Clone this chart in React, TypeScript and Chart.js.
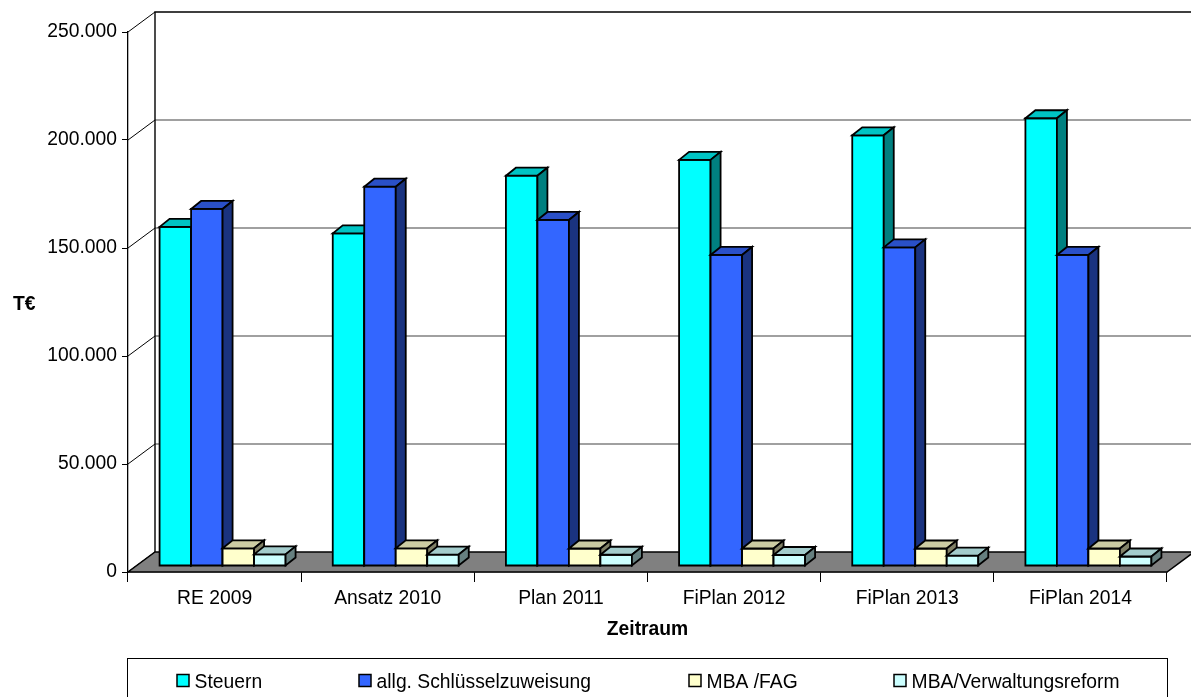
import { useEffect, useRef } from 'react';
import { Chart, registerables } from 'chart.js';

Chart.register(...registerables);

// Zeiträume (Kategorien)
const categories = ['RE 2009', 'Ansatz 2010', 'Plan 2011', 'FiPlan 2012', 'FiPlan 2013', 'FiPlan 2014'];

// Werte in T€
const steuern = [157000, 154000, 180700, 188000, 199400, 207300];
const schluesselzuweisung = [165300, 175600, 160200, 144000, 147500, 144000];
const mbaFag = [8200, 8200, 8100, 8100, 8100, 8100];
const mbaVerwaltungsreform = [5400, 5300, 5200, 5100, 4800, 4400];

const seriesNames = ['Steuern', 'allg. Schlüsselzuweisung', 'MBA /FAG', 'MBA/Verwaltungsreform'];

// Achse
const yMin = 0;
const yMax = 250000;
const yStep = 50000;
const yTitle = 'T€';
const xTitle = 'Zeitraum';

// Flächenfarben je Reihe: Vorderseite, Oberseite, Seitenfläche
const faces = [
  { front: '#00FFFF', top: '#00C4C4', side: '#008080' },
  { front: '#3366FF', top: '#2A50C8', side: '#1A3380' },
  { front: '#FFFFCC', top: '#CCCCA3', side: '#808066' },
  { front: '#CCFFFF', top: '#A3CCCC', side: '#668080' },
];

const FONT = '"Liberation Sans", Arial, Helvetica, sans-serif';
const FONT_SIZE = 19.3;

const W = 1191;
const H = 697;

// Raumtiefe der Wände und Lage der Säulen im Raum
const WALL_DX = 27;
const WALL_DY = -20;
const BAR_SHIFT_X = 8;
const BAR_SHIFT_Y = -6;
const BAR_DX = 10;
const BAR_DY = -8;

// Legendenlayout
const LEGEND_BOX = { left: 127, top: 658, right: 1167, bottom: 710 };
const LEGEND_ITEM_X = [177, 359, 689, 894];
const LEGEND_SWATCH = 12;
const LEGEND_TEXT_GAP = 17.6;
const LEGEND_SWATCH_TOP = 674.5;
const LEGEND_BASELINE = 687.7;

const formatThousands = (v: number) =>
  String(Math.round(v)).replace(/\B(?=(\d{3})+(?!\d))/g, '.');

const scene3d = {
  id: 'scene3d',
  beforeDatasetsDraw(chart: any) {
    const { ctx, chartArea: a, scales } = chart;
    const ys = scales.y;
    ctx.save();

    const tickVals: number[] = [];
    for (let v = yMin; v <= yMax; v += yStep) tickVals.push(v);

    // Rückwand: Gitterlinien
    ctx.strokeStyle = '#808080';
    ctx.lineWidth = 1.6;
    tickVals.forEach((v) => {
      if (v === yMin || v === yMax) return;
      const py = ys.getPixelForValue(v) + WALL_DY;
      ctx.beginPath();
      ctx.moveTo(a.left + WALL_DX, py);
      ctx.lineTo(W + 5, py);
      ctx.stroke();
    });

    // Rückwand: obere Kante und linke Kante
    ctx.strokeStyle = '#000';
    ctx.lineWidth = 1.4;
    const topBack = ys.getPixelForValue(yMax) + WALL_DY;
    const botBack = ys.getPixelForValue(yMin) + WALL_DY;
    ctx.beginPath();
    ctx.moveTo(a.left + WALL_DX, botBack);
    ctx.lineTo(a.left + WALL_DX, topBack);
    ctx.lineTo(W + 5, topBack);
    ctx.stroke();

    // Seitenwand: Diagonalen
    ctx.lineWidth = 1;
    tickVals.forEach((v) => {
      const py = ys.getPixelForValue(v);
      ctx.beginPath();
      ctx.moveTo(a.left, py);
      ctx.lineTo(a.left + WALL_DX, py + WALL_DY);
      ctx.stroke();
    });

    // Boden
    const fy = ys.getPixelForValue(yMin);
    ctx.beginPath();
    ctx.moveTo(a.left, fy);
    ctx.lineTo(a.right, fy);
    ctx.lineTo(a.right + WALL_DX, fy + WALL_DY);
    ctx.lineTo(a.left + WALL_DX, fy + WALL_DY);
    ctx.closePath();
    ctx.fillStyle = '#808080';
    ctx.fill();
    ctx.strokeStyle = '#000';
    ctx.lineWidth = 1.5;
    ctx.stroke();

    // Säulen
    ctx.lineJoin = 'miter';
    ctx.lineWidth = 1.8;
    ctx.strokeStyle = '#000';
    const metas = chart.data.datasets.map((_: any, i: number) => chart.getDatasetMeta(i));
    const n = chart.data.labels.length;
    for (let j = 0; j < n; j++) {
      for (let i = 0; i < metas.length; i++) {
        const el = metas[i].data[j];
        if (!el) continue;
        const p = el.getProps(['x', 'y', 'base', 'width'], true);
        const x0 = p.x - p.width / 2 + BAR_SHIFT_X;
        const x1 = x0 + p.width;
        const yt = p.y + BAR_SHIFT_Y;
        const yb = p.base + BAR_SHIFT_Y;
        const c = faces[i];

        // Vorderseite
        ctx.fillStyle = c.front;
        ctx.beginPath();
        ctx.rect(x0, yt, x1 - x0, yb - yt);
        ctx.fill();
        ctx.stroke();

        // Oberseite
        ctx.fillStyle = c.top;
        ctx.beginPath();
        ctx.moveTo(x0, yt);
        ctx.lineTo(x0 + BAR_DX, yt + BAR_DY);
        ctx.lineTo(x1 + BAR_DX, yt + BAR_DY);
        ctx.lineTo(x1, yt);
        ctx.closePath();
        ctx.fill();
        ctx.stroke();

        // Seitenfläche
        ctx.fillStyle = c.side;
        ctx.beginPath();
        ctx.moveTo(x1, yt);
        ctx.lineTo(x1 + BAR_DX, yt + BAR_DY);
        ctx.lineTo(x1 + BAR_DX, yb + BAR_DY);
        ctx.lineTo(x1, yb);
        ctx.closePath();
        ctx.fill();
        ctx.stroke();
      }
    }

    ctx.restore();
    return false;
  },
  afterDraw(chart: any) {
    const { ctx, chartArea: a } = chart;
    ctx.save();
    ctx.fillStyle = '#000';
    ctx.textBaseline = 'alphabetic';

    // Achsentitel
    ctx.font = `bold ${FONT_SIZE}px ${FONT}`;
    ctx.textAlign = 'center';
    ctx.fillText(xTitle, (a.left + a.right) / 2, 635);
    ctx.textAlign = 'left';
    ctx.fillText(yTitle, 13, 310);

    // Legende
    ctx.strokeStyle = '#000';
    ctx.lineWidth = 1;
    ctx.strokeRect(
      LEGEND_BOX.left + 0.5,
      LEGEND_BOX.top + 0.5,
      LEGEND_BOX.right - LEGEND_BOX.left,
      LEGEND_BOX.bottom - LEGEND_BOX.top
    );
    ctx.font = `${FONT_SIZE}px ${FONT}`;
    seriesNames.forEach((name, i) => {
      const x = LEGEND_ITEM_X[i];
      ctx.fillStyle = faces[i].front;
      ctx.fillRect(x, LEGEND_SWATCH_TOP, LEGEND_SWATCH, LEGEND_SWATCH);
      ctx.strokeStyle = '#000';
      ctx.lineWidth = 1.5;
      ctx.strokeRect(x, LEGEND_SWATCH_TOP, LEGEND_SWATCH, LEGEND_SWATCH);
      ctx.fillStyle = '#000';
      ctx.fillText(name, x + LEGEND_TEXT_GAP, LEGEND_BASELINE);
    });
    ctx.restore();
  },
};

export default function App() {
  const canvasRef = useRef<HTMLCanvasElement | null>(null);

  useEffect(() => {
    const canvas = canvasRef.current;
    if (!canvas) return;
    const chart = new Chart(canvas, {
      type: 'bar',
      data: {
        labels: categories,
        datasets: [
          { label: seriesNames[0], data: steuern, backgroundColor: faces[0].front },
          { label: seriesNames[1], data: schluesselzuweisung, backgroundColor: faces[1].front },
          { label: seriesNames[2], data: mbaFag, backgroundColor: faces[2].front },
          { label: seriesNames[3], data: mbaVerwaltungsreform, backgroundColor: faces[3].front },
        ],
      },
      options: {
        responsive: false,
        animation: false,
        devicePixelRatio: 1,
        datasets: {
          bar: { categoryPercentage: 0.7276, barPercentage: 1 },
        },
        layout: { padding: { top: 32, right: 24, left: 0, bottom: 0 } },
        plugins: {
          legend: { display: false },
          tooltip: { enabled: false },
          title: { display: false },
        },
        scales: {
          x: {
            grid: {
              offset: true,
              drawOnChartArea: false,
              drawTicks: true,
              tickLength: 10,
              tickColor: '#000',
              tickWidth: 1,
            },
            border: { display: true, color: '#000', width: 1.3 },
            ticks: {
              color: '#000',
              padding: 5,
              maxRotation: 0,
              autoSkip: false,
              font: { family: FONT, size: FONT_SIZE },
            },
            afterFit: (s: any) => {
              s.height = H - 572;
            },
          },
          y: {
            min: yMin,
            max: yMax,
            grid: {
              drawOnChartArea: false,
              drawTicks: true,
              tickLength: 6,
              tickColor: '#000',
              tickWidth: 1,
            },
            border: { display: true, color: '#000', width: 1.3 },
            ticks: {
              stepSize: yStep,
              color: '#000',
              padding: 5,
              font: { family: FONT, size: FONT_SIZE },
              callback: (v: any) => formatThousands(Number(v)),
            },
            afterFit: (s: any) => {
              s.width = 128;
            },
          },
        },
      },
      plugins: [scene3d],
    });
    return () => chart.destroy();
  }, []);

  return (
    <div style={{ position: 'fixed', left: 0, top: 0, width: W, height: H, background: '#fff' }}>
      <canvas ref={canvasRef} width={W} height={H} style={{ display: 'block', width: W, height: H }} />
    </div>
  );
}
